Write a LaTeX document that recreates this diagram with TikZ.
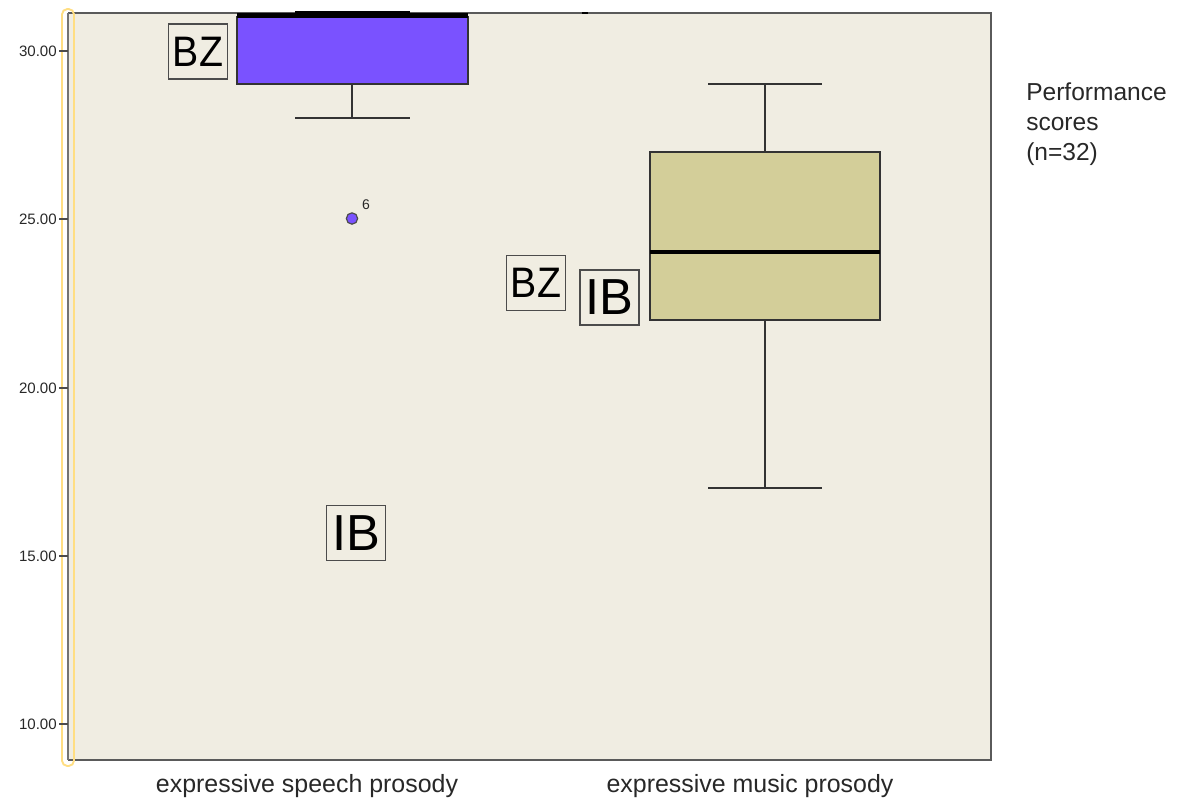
\documentclass[tikz,border=0pt]{standalone}
\usepackage{graphicx}
\usepackage{fontspec}
\setmainfont{Liberation Sans}
\definecolor{bgc}{RGB}{240,237,226}
\definecolor{bluec}{RGB}{122,82,255}
\definecolor{tanc}{RGB}{211,206,153}
\definecolor{framec}{RGB}{90,90,90}
\definecolor{yel}{RGB}{255,222,130}
\definecolor{txtc}{RGB}{40,40,40}
\begin{document}
\begin{tikzpicture}[x=0.75pt,y=-0.75pt,
  frame/.style={draw=framec, line width=1.5pt},
  boxline/.style={draw=black!80, line width=1.3pt},
  whisk/.style={draw=black!80, line width=1.7pt},
  medline/.style={draw=black, line width=2.4pt},
  note/.style={draw=black!70, line width=1.2pt, fill=bgc, inner sep=0pt,
    minimum width=44pt, minimum height=41.5pt, text=black},
  ticklab/.style={anchor=east, text=txtc, inner sep=0pt, font=\fontsize{11.3}{13}\selectfont},
  axlab/.style={text=txtc, inner sep=0pt, font=\fontsize{18.7}{22}\selectfont},
]
\useasboundingbox (0,0) rectangle (1186,801);
% plot background and frame
\fill[bgc] (68,13) rectangle (991,760);
\draw[frame] (68,13) -- (991,13) -- (991,760) -- (68,760);
\draw[yel, line width=1.4pt, rounded corners=4pt] (62,9) rectangle (74,766);
\draw[draw=black!55, line width=2pt] (68,13) -- (68,760);
% y ticks
\foreach \v/\yy in {30.00/51, 25.00/219, 20.00/388, 15.00/556, 10.00/724}{
  \draw[black!70, line width=1pt] (59,\yy) -- (68,\yy);
  \node[ticklab] at (57,\yy) {\v};
}
% box 1 (speech)
\draw[boxline, fill=bluec] (237,17) rectangle (468,84);
\draw[medline, line width=3.5pt] (237,15.5) -- (468,15.5);
\draw[medline, line width=3.5pt] (295,13) -- (410,13);
\draw[whisk] (352,84) -- (352,118);
\draw[whisk] (295,118) -- (410,118);
\draw[black, line width=2pt] (582,13) -- (588,13);
% outlier
\node[circle, fill=bluec, draw=black!70, line width=0.9pt, minimum size=8.5pt, inner sep=0pt] (out6) at (352,218.5) {};
\node[text=txtc, inner sep=0pt, font=\fontsize{10.5}{12}\selectfont] (lab6) at (366,205) {6};
% box 2 (music)
\draw[boxline, fill=tanc] (650,152) rectangle (880,320);
\draw[medline] (650,252) -- (880,252);
\draw[whisk] (765,152) -- (765,84);
\draw[whisk] (708,84) -- (822,84);
\draw[whisk] (765,320) -- (765,488);
\draw[whisk] (708,488) -- (822,488);
% annotation boxes
\node[note, font=\fontsize{32}{32}\selectfont] (bz1) at (198,51.5) {\scalebox{0.92}[1]{BZ}};
\node[note, font=\fontsize{32}{32}\selectfont] (bz2) at (536,283) {\scalebox{0.92}[1]{BZ}};
\node[note, font=\fontsize{38}{38}\selectfont] (ib1) at (609.5,297.5) {IB};
\node[note, font=\fontsize{38}{38}\selectfont] (ib2) at (356,533) {IB};
% axis labels
\node[axlab] (xl1) at (307,786) {expressive speech prosody};
\node[axlab] (xl2) at (750,786) {expressive music prosody};
% legend
\node[anchor=north west, align=left, text=txtc, inner sep=0pt,
  font=\fontsize{18.4}{22.5}\selectfont] (leg) at (1026,82) {Performance\\scores\\(n=32)};
\end{tikzpicture}
\end{document}
